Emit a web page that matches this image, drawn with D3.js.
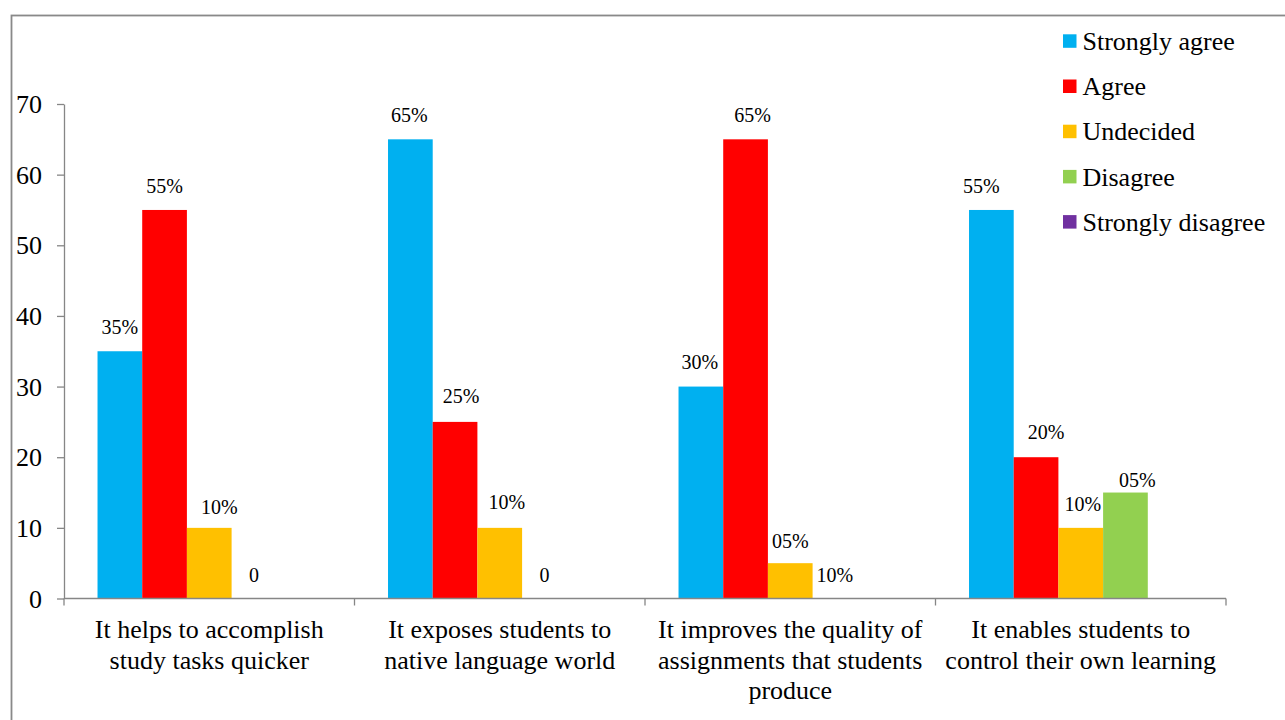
<!DOCTYPE html>
<html>
<head>
<meta charset="utf-8">
<script src="https://cdn.jsdelivr.net/npm/d3@7"></script>
<style>
  html, body { margin: 0; padding: 0; background: #fff; }
  svg { display: block; }
  svg text { font-family: "Liberation Serif", "Times New Roman", Times, "DejaVu Serif", serif; }
</style>
</head>
<body>
<svg id="chart" width="1285" height="720"></svg>
<script>
// Survey statements (each category label split into its lines)
const categories = [
  ["It helps to accomplish", "study tasks quicker"],
  ["It exposes students to", "native language world"],
  ["It improves the quality of", "assignments that students", "produce"],
  ["It enables students to", "control their own learning"]
];
const seriesNames = ["Strongly agree", "Agree", "Undecided", "Disagree", "Strongly disagree"];
const seriesColors = ["#00B0F0", "#FF0000", "#FFC000", "#92D050", "#7030A0"];

// Responses per series, one value per statement
const stronglyAgree    = [35, 65, 30, 55];
const agree            = [55, 25, 65, 20];
const undecided        = [10, 10, 5, 10];
const disagree         = [0, 0, 0, 15];
const stronglyDisagree = [0, 0, 0, 0];

// Data label text per series (null = no label)
const labelsStronglyAgree = ["35%", "65%", "30%", "55%"];
const labelsAgree         = ["55%", "25%", "65%", "20%"];
const labelsUndecided     = ["10%", "10%", "05%", "10%"];
const labelsDisagree      = ["0", "0", "10%", "05%"];
const labelsStronglyDis   = [null, null, null, null];

const yTicks = [0, 10, 20, 30, 40, 50, 60, 70];

const seriesValues = [stronglyAgree, agree, undecided, disagree, stronglyDisagree];
const seriesLabels = [labelsStronglyAgree, labelsAgree, labelsUndecided, labelsDisagree, labelsStronglyDis];

// Hand-placed nudges for data labels [dx, dy], by series then statement
const labelNudge = [
  [[0, 0], [-1, 0], [-1, -1], [-10, 0]],
  [[0, 0], [6, -1.5], [7, 0], [10, -1]],
  [[10, 3], [7, -1.5], [0, 2], [2, 0]],
  [[0, 0], [0, 0], [0, 0], [12, 11]],
  [[0, 0], [0, 0], [0, 0], [0, 0]]
];

const FONT = "'Liberation Serif', 'Times New Roman', Times, 'DejaVu Serif', serif";
const svg = d3.select("#chart").attr("font-family", FONT);
const axisColor = "#868686";

// Outer frame
svg.append("rect")
  .attr("x", 11.5).attr("y", 15.5)
  .attr("width", 1400).attr("height", 800)
  .attr("fill", "none").attr("stroke", "#898989").attr("stroke-width", 1.8);

const plot = { left: 64, right: 1226, top: 104, bottom: 598.5 };

const groupIdx = d3.range(categories.length);
const x0 = d3.scaleBand().domain(groupIdx).range([plot.left, plot.right]).paddingInner(0).paddingOuter(0);
const x1 = d3.scaleBand().domain(d3.range(seriesNames.length)).range([0, x0.bandwidth()])
  .paddingInner(0).paddingOuter(0.75);
const y = d3.scaleLinear().domain([0, 70]).range([plot.bottom, plot.top]);

// Y axis
const yAxis = svg.append("g")
  .attr("transform", `translate(${plot.left},0)`)
  .call(d3.axisLeft(y).tickValues(yTicks).tickSizeInner(7).tickSizeOuter(0).tickPadding(15)
    .tickFormat(d3.format("d")));
yAxis.attr("font-family", FONT);
yAxis.select(".domain").attr("stroke", axisColor).attr("stroke-width", 1.3);
yAxis.selectAll(".tick line").attr("stroke", axisColor).attr("stroke-width", 1.3);
yAxis.selectAll(".tick text")
  .attr("fill", "#000").attr("font-size", 26)
  .attr("font-family", FONT)
  .attr("dy", "0.33em");

// Bars
const groups = svg.append("g").selectAll("g")
  .data(groupIdx).join("g")
  .attr("transform", g => `translate(${x0(g)},0)`);

groups.selectAll("rect")
  .data(g => seriesValues.map((vals, s) => ({ s, g, v: vals[g] })))
  .join("rect")
  .attr("x", d => x1(d.s))
  .attr("y", d => y(d.v))
  .attr("width", x1.bandwidth())
  .attr("height", d => y(0) - y(d.v))
  .attr("fill", d => seriesColors[d.s]);

// Data labels
groups.selectAll("text.val")
  .data(g => seriesLabels.map((labs, s) => ({ s, g, v: seriesValues[s][g], t: labs[g] })).filter(d => d.t !== null))
  .join("text")
  .attr("class", "val")
  .attr("x", d => x1(d.s) + x1.bandwidth() / 2 + labelNudge[d.s][d.g][0])
  .attr("y", d => y(d.v) - 17 + labelNudge[d.s][d.g][1])
  .attr("text-anchor", "middle")
  .attr("font-family", FONT)
  .attr("font-size", 20)
  .attr("fill", "#000")
  .text(d => d.t);

// X axis line with boundary ticks
svg.append("line")
  .attr("x1", plot.left).attr("x2", plot.right)
  .attr("y1", plot.bottom).attr("y2", plot.bottom)
  .attr("stroke", axisColor).attr("stroke-width", 1.3);
const boundaries = groupIdx.map(g => x0(g)).concat([x0.range()[1]]);
svg.append("g").selectAll("line")
  .data(boundaries).join("line")
  .attr("x1", d => d).attr("x2", d => d)
  .attr("y1", plot.bottom).attr("y2", plot.bottom + 7)
  .attr("stroke", axisColor).attr("stroke-width", 1.3);

// Category labels
svg.append("g").selectAll("text")
  .data(groupIdx).join("text")
  .attr("x", g => x0(g) + x0.bandwidth() / 2)
  .attr("y", 638)
  .attr("text-anchor", "middle")
  .attr("font-family", FONT)
  .attr("font-size", 26)
  .attr("fill", "#000")
  .selectAll("tspan")
  .data(g => categories[g]).join("tspan")
  .attr("x", function () { return d3.select(this.parentNode).attr("x"); })
  .attr("dy", (d, i) => i === 0 ? 0 : 30.5)
  .text(d => d);

// Legend
const legend = svg.append("g").attr("transform", "translate(1063,41)");
const items = legend.selectAll("g")
  .data(seriesNames).join("g")
  .attr("transform", (d, i) => `translate(0,${i * 45.2})`);
items.append("rect")
  .attr("x", 0).attr("y", -6.7)
  .attr("width", 13.5).attr("height", 13.5)
  .attr("fill", (d, i) => seriesColors[i]);
items.append("text")
  .attr("x", 19.5).attr("y", 9)
  .attr("font-family", FONT)
  .attr("font-size", 26)
  .attr("fill", "#000")
  .text(d => d);
</script>
</body>
</html>
